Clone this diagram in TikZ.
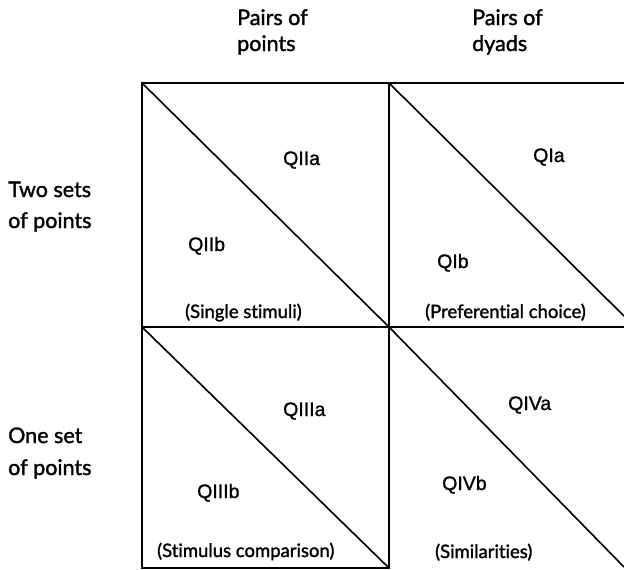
\documentclass[tikz,border=0pt]{standalone}
\usepackage{fontspec}
\setmainfont{Lato}
\newfontfamily\lblfont{Lato}[FakeBold=1.5, Ligatures=NoCommon]
\newfontfamily\qfont{Liberation Sans}[FakeBold=1.0]
\begin{document}
\begin{tikzpicture}[x=1pt,y=-1pt,
  grid/.style={line width=1.8pt, line cap=rect},
  diag/.style={line width=1.6pt},
  hd/.style={font=\lblfont\fontsize{21.5}{24}\selectfont, inner sep=0pt, anchor=base west},
  qlbl/.style={font=\qfont\fontsize{19.5}{22}\selectfont, inner sep=0pt, anchor=base west},
  captxt/.style={font=\lblfont\fontsize{18.5}{21}\selectfont, inner sep=0pt, anchor=base west}]
\path[use as bounding box] (0,0) rectangle (624,570);
% corners
\coordinate (tl) at (142,83);
\coordinate (tm) at (389,83);
\coordinate (tr) at (624,83);
\coordinate (ml) at (142,327);
\coordinate (mm) at (389,327);
\coordinate (mr) at (624,327);
\coordinate (bl) at (142,568);
\coordinate (bm) at (389,568);
\coordinate (d1) at (624,316);
\coordinate (d2) at (624,567);
% grid
\draw[grid] (tl) -- (tr);
\draw[grid] (ml) -- (mr);
\draw[grid] (bl) -- (bm);
\draw[grid] (tl) -- (bl);
\draw[grid] (tm) -- (bm);
% diagonals
\draw[diag] (tl) -- (mm);
\draw[diag] (ml) -- (bm);
\draw[diag] (tm) -- (d1);
\draw[diag] (mm) -- (d2);
% headers
\node[hd] (h1a) at (237,25) {Pairs of};
\node[hd] (h1b) at (237,51) {points};
\node[hd] (h2a) at (472,25) {Pairs of};
\node[hd] (h2b) at (472,51) {dyads};
\node[hd] (r1a) at (8,197) {Two sets};
\node[hd] (r1b) at (8,228) {of points};
\node[hd] (r2a) at (8,443) {One set};
\node[hd] (r2b) at (8,475) {of points};
% cells
\node[qlbl] (q2a) at (283,165) {QIIa};
\node[qlbl] (q2b) at (188,251) {QIIb};
\node[captxt] (c2) at (185,318) {(Single stimuli)};
\node[qlbl] (q1a) at (533,162) {QIa};
\node[qlbl] (q1b) at (437,268) {QIb};
\node[captxt] (c1) at (425,318) {(Preferential choice)};
\node[qlbl] (q3a) at (283,416) {QIIIa};
\node[qlbl] (q3b) at (197,498) {QIIIb};
\node[captxt] (c3) at (157,557) {(Stimulus comparison)};
\node[qlbl] (q4a) at (508,410) {QIVa};
\node[qlbl] (q4b) at (442,490) {QIVb};
\node[captxt] (c4) at (435,558) {(Similarities)};
\end{tikzpicture}
\end{document}
